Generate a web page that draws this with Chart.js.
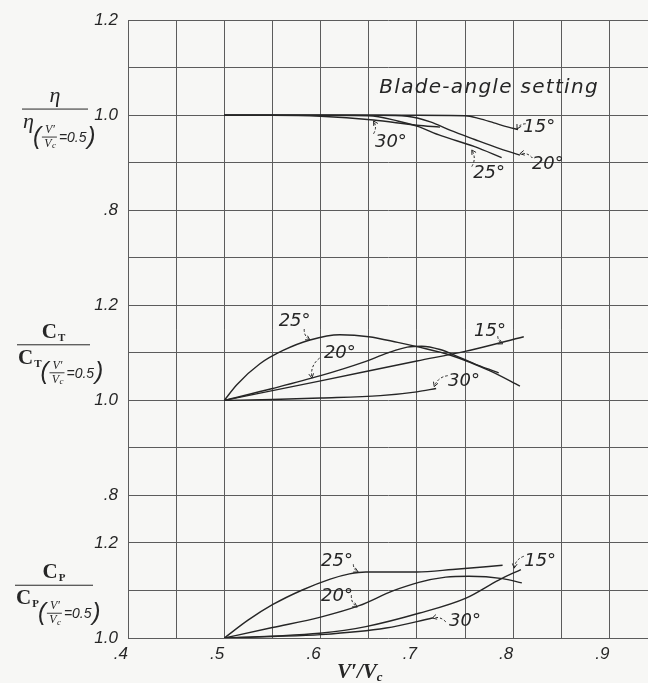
<!DOCTYPE html>
<html>
<head>
<meta charset="utf-8">
<script src="https://cdn.jsdelivr.net/npm/chart.js@4.4.1/dist/chart.umd.min.js"></script>
<style>
  html, body { margin: 0; padding: 0; background: #f7f7f5; }
</style>
</head>
<body>
<canvas id="chart" width="648" height="683"></canvas>
<script>
// x = V'/Vc, y = value divided by its value at V'/Vc = 0.5
const eta15 = [[0.5, 1.0], [0.6, 1.0], [0.7, 1.0], [0.75, 0.999], [0.765, 0.993], [0.78, 0.984], [0.795, 0.975], [0.805, 0.970]];
const eta20 = [[0.5, 1.0], [0.6, 1.0], [0.66, 1.0], [0.69, 0.998], [0.714, 0.986], [0.735, 0.968], [0.76, 0.949], [0.783, 0.932], [0.807, 0.916]];
const eta25 = [[0.5, 1.0], [0.6, 1.0], [0.65, 0.999], [0.68, 0.988], [0.70, 0.977], [0.725, 0.957], [0.76, 0.934], [0.788, 0.911]];
const eta30 = [[0.5, 1.0], [0.55, 1.0], [0.6, 0.998], [0.655, 0.99], [0.70, 0.979], [0.724, 0.975]];

const ct15 = [[0.5, 1.0], [0.6, 1.041], [0.7, 1.083], [0.75, 1.103], [0.811, 1.134]];
const ct20 = [[0.5, 1.0], [0.55, 1.025], [0.6, 1.052], [0.644, 1.08], [0.67, 1.10], [0.69, 1.112], [0.705, 1.114], [0.724, 1.107], [0.745, 1.09], [0.766, 1.072], [0.785, 1.058]];
const ct25 = [[0.5, 1.0], [0.513, 1.033], [0.537, 1.077], [0.561, 1.105], [0.589, 1.127], [0.62, 1.138], [0.65, 1.134], [0.68, 1.122], [0.70, 1.113], [0.735, 1.095], [0.776, 1.062], [0.807, 1.030]];
const ct30 = [[0.5, 1.0], [0.55, 1.002], [0.6, 1.005], [0.662, 1.010], [0.70, 1.018], [0.72, 1.025]];

const cp15 = [[0.5, 1.0], [0.55, 1.004], [0.599, 1.010], [0.647, 1.024], [0.702, 1.052], [0.751, 1.084], [0.785, 1.122], [0.808, 1.144]];
const cp20 = [[0.5, 1.0], [0.55, 1.022], [0.6, 1.044], [0.64, 1.068], [0.675, 1.099], [0.702, 1.117], [0.73, 1.128], [0.754, 1.13], [0.789, 1.125], [0.809, 1.116]];
const cp25 = [[0.5, 1.0], [0.525, 1.038], [0.55, 1.07], [0.581, 1.101], [0.61, 1.124], [0.63, 1.135], [0.647, 1.139], [0.70, 1.139], [0.737, 1.144], [0.789, 1.153]];
const cp30 = [[0.5, 1.0], [0.55, 1.003], [0.6, 1.007], [0.668, 1.021], [0.716, 1.042]];

const xTicks = [0.4, 0.45, 0.5, 0.55, 0.6, 0.65, 0.7, 0.75, 0.8, 0.85, 0.9];
const xTickLabels = ['.4', '', '.5', '', '.6', '', '.7', '', '.8', '', '.9'];
// one shared column of labels, bottom to top (C_P, C_T, eta panels)
const yTickLabels = ['1.0', '', '1.2', '.8', '', '1.0', '', '1.2', '', '.8', '', '1.0', '', '1.2'];

// text notes: label position, dashed arrow start and tip, in data units of each panel
const notes = [
  { axis: 'y', text: 'Blade-angle setting', at: [0.775, 1.057], big: true },
  { axis: 'y', text: '15°', at: [0.827, 0.974], from: [0.813, 0.982], to: [0.804, 0.971] },
  { axis: 'y', text: '30°', at: [0.673, 0.944], from: [0.655, 0.961], to: [0.655, 0.988] },
  { axis: 'y', text: '25°', at: [0.775, 0.877], from: [0.757, 0.892], to: [0.757, 0.927] },
  { axis: 'y', text: '20°', at: [0.836, 0.896], from: [0.820, 0.910], to: [0.807, 0.919] },
  { axis: 'yCT', text: '25°', at: [0.573, 1.167], from: [0.583, 1.150], to: [0.589, 1.127] },
  { axis: 'yCT', text: '20°', at: [0.620, 1.100], from: [0.599, 1.089], to: [0.591, 1.047] },
  { axis: 'yCT', text: '15°', at: [0.776, 1.146], from: [0.784, 1.135], to: [0.789, 1.119] },
  { axis: 'yCT', text: '30°', at: [0.749, 1.041], from: [0.732, 1.052], to: [0.718, 1.029] },
  { axis: 'yCP', text: '25°', at: [0.617, 1.162], from: [0.634, 1.155], to: [0.639, 1.139] },
  { axis: 'yCP', text: '20°', at: [0.617, 1.088], from: [0.632, 1.090], to: [0.638, 1.065] },
  { axis: 'yCP', text: '15°', at: [0.828, 1.162], from: [0.811, 1.172], to: [0.801, 1.147] },
  { axis: 'yCP', text: '30°', at: [0.750, 1.036], from: [0.730, 1.034], to: [0.716, 1.042] }
];

const ink = '#262626';
const gridColor = '#5c5c5c';
const sans = '"Liberation Sans", Arial, sans-serif';
const wide = '"DejaVu Sans", sans-serif';
const serif = '"Liberation Serif", "DejaVu Serif", serif';

const toPoints = arr => arr.map(p => ({ x: p[0], y: p[1] }));
const line = (data, axis) => ({
  data: toPoints(data), yAxisID: axis,
  borderColor: ink, borderWidth: 1.4, pointRadius: 0,
  cubicInterpolationMode: 'monotone', fill: false
});

function arrow(ctx, x1, y1, x2, y2) {
  const dx = x2 - x1, dy = y2 - y1;
  const cx = (x1 + x2) / 2 - dy * 0.3, cy = (y1 + y2) / 2 + dx * 0.3;
  ctx.lineWidth = 1;
  ctx.setLineDash([2.5, 2]);
  ctx.beginPath();
  ctx.moveTo(x1, y1);
  ctx.quadraticCurveTo(cx, cy, x2, y2);
  ctx.stroke();
  ctx.setLineDash([]);
  const a = Math.atan2(y2 - cy, x2 - cx);
  ctx.beginPath();
  ctx.moveTo(x2 - 5 * Math.cos(a - 0.5), y2 - 5 * Math.sin(a - 0.5));
  ctx.lineTo(x2, y2);
  ctx.lineTo(x2 - 5 * Math.cos(a + 0.5), y2 - 5 * Math.sin(a + 0.5));
  ctx.stroke();
}

// draws a symbol: eta, or bold C with small subscript letter; returns end x
function symbol(ctx, kind, x, base) {
  ctx.textAlign = 'left';
  ctx.textBaseline = 'alphabetic';
  if (kind === 'eta') {
    ctx.font = 'italic 22px ' + serif;
    ctx.fillText('η', x, base);
    return x + ctx.measureText('η').width;
  }
  ctx.font = 'bold 21px ' + serif;
  ctx.fillText('C', x, base);
  let w = ctx.measureText('C').width;
  ctx.font = 'bold 11px ' + serif;
  ctx.fillText(kind, x + w + 1, base + 3);
  return x + w + 1 + ctx.measureText(kind).width;
}

function symbolWidth(ctx, kind) {
  if (kind === 'eta') { ctx.font = 'italic 22px ' + serif; return ctx.measureText('η').width; }
  ctx.font = 'bold 21px ' + serif;
  const w = ctx.measureText('C').width;
  ctx.font = 'bold 11px ' + serif;
  return w + 1 + ctx.measureText(kind).width;
}

// "(V'/Vc = 0.5)" with its little stacked fraction
function condition(ctx, x, yc) {
  ctx.textAlign = 'left';
  ctx.textBaseline = 'middle';
  ctx.font = 'italic 24px ' + sans;
  ctx.fillText('(', x, yc);
  x += ctx.measureText('(').width + 1;
  ctx.font = 'italic 12px ' + serif;
  ctx.textAlign = 'center';
  ctx.fillText('V′', x + 8, yc - 7);
  ctx.fillText('V', x + 6, yc + 7);
  ctx.font = 'italic 9px ' + serif;
  ctx.fillText('c', x + 12, yc + 9);
  ctx.lineWidth = 0.9;
  ctx.beginPath(); ctx.moveTo(x, yc); ctx.lineTo(x + 15, yc); ctx.stroke();
  x += 17;
  ctx.textAlign = 'left';
  ctx.font = 'italic 14px ' + sans;
  ctx.fillText('=0.5', x, yc + 1);
  x += ctx.measureText('=0.5').width + 1;
  ctx.font = 'italic 24px ' + sans;
  ctx.fillText(')', x, yc);
}

function ratio(ctx, kind, cy, left, right) {
  const cx = (left + right) / 2;
  const w = symbolWidth(ctx, kind);
  symbol(ctx, kind, cx - w / 2, cy - 7);
  ctx.lineWidth = 1;
  ctx.beginPath(); ctx.moveTo(left, cy); ctx.lineTo(right, cy); ctx.stroke();
  const end = symbol(ctx, kind, left + 1, cy + 19);
  condition(ctx, end - 1, cy + 28);
}

const notePlugin = {
  id: 'notes',
  afterDatasetsDraw(chart) {
    const { ctx, scales } = chart;
    const X = v => scales.x.getPixelForValue(v);
    ctx.save();
    ctx.fillStyle = ink;
    ctx.strokeStyle = ink;
    notes.forEach(n => {
      const ys = scales[n.axis];
      ctx.font = 'oblique ' + (n.big ? 20 : 18) + 'px ' + wide;
      ctx.letterSpacing = n.big ? '1.3px' : '0px';
      ctx.textAlign = 'center';
      ctx.textBaseline = 'middle';
      ctx.fillText(n.text, X(n.at[0]), ys.getPixelForValue(n.at[1]));
      if (n.from) {
        arrow(ctx, X(n.from[0]), ys.getPixelForValue(n.from[1]), X(n.to[0]), ys.getPixelForValue(n.to[1]));
      }
    });
    ctx.letterSpacing = '0px';

    // left-hand quantity labels
    ratio(ctx, 'eta', scales.y.getPixelForValue(1.013), 22, 88);
    ratio(ctx, 'T', scales.yCT.getPixelForValue(1.117), 17, 90);
    ratio(ctx, 'P', scales.yCP.getPixelForValue(1.111), 15, 93);

    // x axis title V'/Vc
    const tx = X(0.617), ty = chart.chartArea.bottom + 40;
    ctx.textAlign = 'left';
    ctx.textBaseline = 'alphabetic';
    ctx.font = 'italic bold 21px ' + serif;
    ctx.fillText('V′/V', tx, ty);
    const w = ctx.measureText('V′/V').width;
    ctx.font = 'italic bold 13px ' + serif;
    ctx.fillText('c', tx + w, ty + 3);
    ctx.restore();
  }
};

new Chart(document.getElementById('chart'), {
  type: 'line',
  data: {
    datasets: [
      line(eta15, 'y'), line(eta20, 'y'), line(eta25, 'y'), line(eta30, 'y'),
      line(ct15, 'yCT'), line(ct20, 'yCT'), line(ct25, 'yCT'), line(ct30, 'yCT'),
      line(cp15, 'yCP'), line(cp20, 'yCP'), line(cp25, 'yCP'), line(cp30, 'yCP')
    ]
  },
  options: {
    responsive: false,
    animation: false,
    layout: { padding: { top: 18, left: 0, right: 0, bottom: 0 } },
    plugins: { legend: { display: false }, tooltip: { enabled: false } },
    scales: {
      x: {
        type: 'linear', min: 0.4, max: 0.94,
        afterBuildTicks: s => { s.ticks = xTicks.map(v => ({ value: v })); },
        afterFit: s => { s.height = 45; s.paddingLeft = 0; s.paddingRight = 0; },
        grid: { color: gridColor, lineWidth: 1, drawTicks: false },
        border: { display: false },
        ticks: {
          align: 'end', padding: 6, color: ink, autoSkip: false, maxRotation: 0,
          font: { family: sans, size: 17, style: 'italic' },
          callback: (v, i) => xTickLabels[i] || ''
        }
      },
      y: {
        type: 'linear', min: -0.1, max: 1.2,
        afterFit: s => { s.width = 128; },
        grid: { color: gridColor, lineWidth: 1, drawTicks: false },
        border: { color: gridColor },
        ticks: {
          stepSize: 0.1, padding: 10, color: ink,
          font: { family: sans, size: 17, style: 'italic' },
          callback: (v, i) => yTickLabels[i] || ''
        }
      },
      yCT: { type: 'linear', display: false, min: 0.5, max: 1.8 },
      yCP: { type: 'linear', display: false, min: 1.0, max: 2.3 }
    }
  },
  plugins: [notePlugin]
});
</script>
</body>
</html>
